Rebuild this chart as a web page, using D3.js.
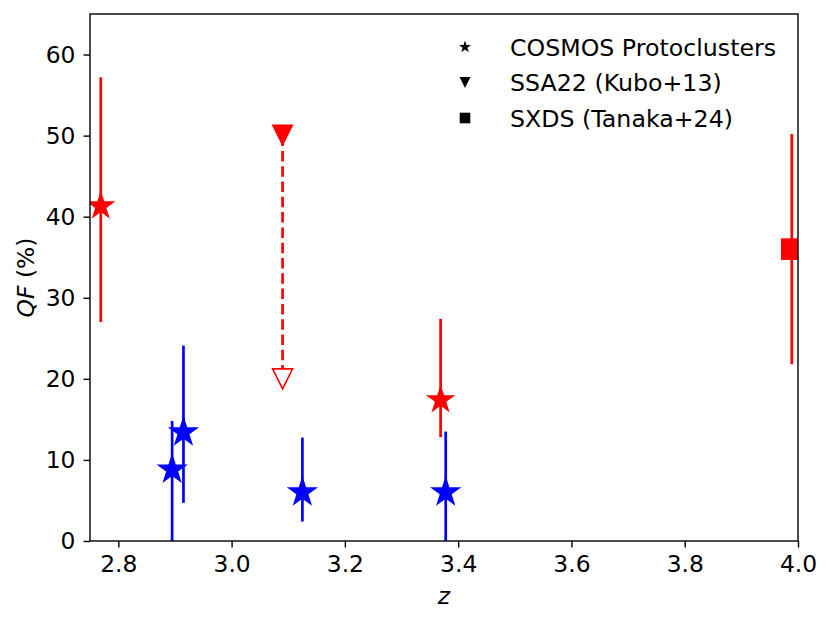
<!DOCTYPE html>
<html>
<head>
<meta charset="utf-8">
<script src="https://cdn.jsdelivr.net/npm/d3@7"></script>
<style>
  body { margin: 0; background: #fff; }
  text { font-family: "DejaVu Sans", sans-serif; }
</style>
</head>
<body>
<script>
// COSMOS protoclusters (stars), red = one group, blue = the other
var cosmosZ     = [2.769, 2.895, 2.915, 3.125, 3.369, 3.378];
var cosmosQF    = [41.3, 8.8, 13.4, 6.0, 17.4, 6.0];
var cosmosLow   = [27.0, 0.0, 4.7, 2.4, 12.8, 0.0];
var cosmosHigh  = [57.2, 14.8, 24.1, 12.75, 27.4, 13.5];
var cosmosColor = ["red", "blue", "blue", "blue", "red", "blue"];

// SSA22 (Kubo+13): upper limit
var ssaZ = [3.09];
var ssaQF = [50];
var ssaLimit = [20];

// SXDS (Tanaka+24)
var sxdsZ = [3.989];
var sxdsQF = [36.0];
var sxdsLow = [21.8];
var sxdsHigh = [50.2];

var xTicks = [2.8, 3.0, 3.2, 3.4, 3.6, 3.8, 4.0];
var yTicks = [0, 10, 20, 30, 40, 50, 60];
var legendLabels = ["COSMOS Protoclusters", "SSA22 (Kubo+13)", "SXDS (Tanaka+24)"];

var W = 831, H = 624;
var margin = {top: 14, right: 33, bottom: 83, left: 90};
var width = W - margin.left - margin.right,
    height = H - margin.top - margin.bottom;

var svg = d3.select("body").append("svg")
    .attr("width", W)
    .attr("height", H);

var g = svg.append("g")
    .attr("transform", "translate(" + margin.left + "," + margin.top + ")");

var x = d3.scaleLinear().domain([2.75, 4.0]).range([0, width]);
var y = d3.scaleLinear().domain([0, 65]).range([height, 0]);

svg.append("defs").append("clipPath").attr("id", "clip")
  .append("rect").attr("width", width).attr("height", height);

var plot = g.append("g").attr("clip-path", "url(#clip)");

// star path (same inner radius ratio as matplotlib)
var star = function(r) {
  return d3.symbol().type(d3.symbolStar).size(r * r / 0.8908130915292852)();
};
function triDown(s) {
  var h = s / 2;
  return "M0," + h + "L" + (-h) + "," + (-h) + "L" + h + "," + (-h) + "Z";
}

// error bars
plot.selectAll(".cerr")
    .data(cosmosZ)
    .enter().append("line")
    .attr("x1", function(d) { return x(d); })
    .attr("x2", function(d) { return x(d); })
    .attr("y1", function(d, i) { return y(cosmosLow[i]); })
    .attr("y2", function(d, i) { return y(cosmosHigh[i]); })
    .attr("stroke", function(d, i) { return cosmosColor[i]; })
    .attr("stroke-width", 2.7);

plot.selectAll(".cstar")
    .data(cosmosZ)
    .enter().append("path")
    .attr("d", function(d, i) { return star(cosmosColor[i] == "red" ? 15.5 : 16.5); })
    .attr("transform", function(d, i) { return "translate(" + x(d) + "," + y(cosmosQF[i]) + ")"; })
    .attr("fill", function(d, i) { return cosmosColor[i]; });

// SSA22 upper limit
plot.selectAll(".ssa")
    .data(ssaZ)
    .enter().append("line")
    .attr("x1", function(d) { return x(d); })
    .attr("x2", function(d) { return x(d); })
    .attr("y1", function(d, i) { return y(ssaQF[i]); })
    .attr("y2", function(d, i) { return y(ssaLimit[i]); })
    .attr("stroke", "red")
    .attr("stroke-width", 2.7)
    .attr("stroke-dasharray", "10.5,4.8");

plot.selectAll(".ssaopen")
    .data(ssaZ)
    .enter().append("path")
    .attr("d", triDown(20))
    .attr("transform", function(d, i) { return "translate(" + x(d) + "," + y(ssaLimit[i]) + ")"; })
    .attr("fill", "white")
    .attr("stroke", "red")
    .attr("stroke-width", 1.6);

plot.selectAll(".ssafill")
    .data(ssaZ)
    .enter().append("path")
    .attr("d", triDown(22))
    .attr("transform", function(d, i) { return "translate(" + x(d) + "," + y(ssaQF[i]) + ")"; })
    .attr("fill", "red");

// SXDS
plot.selectAll(".sxerr")
    .data(sxdsZ)
    .enter().append("line")
    .attr("x1", function(d) { return x(d); })
    .attr("x2", function(d) { return x(d); })
    .attr("y1", function(d, i) { return y(sxdsLow[i]); })
    .attr("y2", function(d, i) { return y(sxdsHigh[i]); })
    .attr("stroke", "red")
    .attr("stroke-width", 2.7);

plot.selectAll(".sxsq")
    .data(sxdsZ)
    .enter().append("rect")
    .attr("x", function(d) { return x(d) - 10.8; })
    .attr("y", function(d, i) { return y(sxdsQF[i]) - 10.8; })
    .attr("width", 21.6)
    .attr("height", 21.6)
    .attr("fill", "red");

// axes
var xAxis = g.append("g")
    .attr("transform", "translate(0," + height + ")")
    .call(d3.axisBottom(x).tickValues(xTicks).tickFormat(d3.format(".1f")).tickSizeInner(6.5).tickSizeOuter(0).tickPadding(8));
var yAxis = g.append("g")
    .call(d3.axisLeft(y).tickValues(yTicks).tickSizeInner(6.5).tickSizeOuter(0).tickPadding(8));

[xAxis, yAxis].forEach(function(a) {
  a.selectAll("text").attr("font-size", 23.4).attr("fill", "black").attr("font-family", "DejaVu Sans");
  a.selectAll("line").attr("stroke", "black").attr("stroke-width", 1.4);
  a.select(".domain").remove();
});

g.append("rect")
    .attr("width", width)
    .attr("height", height)
    .attr("fill", "none")
    .attr("stroke", "black")
    .attr("stroke-width", 1.4);

// axis labels
g.append("text")
    .attr("x", width / 2)
    .attr("y", height + 63)
    .attr("text-anchor", "middle")
    .attr("font-size", 23.4)
    .attr("font-style", "italic")
    .text("z");

var yl = g.append("text")
    .attr("transform", "translate(-56," + (height / 2) + ") rotate(-90)")
    .attr("text-anchor", "middle")
    .attr("font-size", 23.4);
yl.append("tspan").attr("font-style", "italic").text("QF");
yl.append("tspan").text(" (%)");

// legend
var legend = svg.append("g").attr("transform", "translate(465,47)");
var legendRow = legend.selectAll(".row")
    .data(legendLabels)
    .enter().append("g")
    .attr("transform", function(d, i) { return "translate(0," + (i * 35.5) + ")"; });

legendRow.append("path")
    .attr("d", function(d, i) {
      if (i == 0) return star(6.4);
      if (i == 1) return triDown(11);
      return "M-5.3,-5.3H5.3V5.3H-5.3Z";
    })
    .attr("fill", "black");

legendRow.append("text")
    .attr("x", 45)
    .attr("dy", "0.36em")
    .attr("font-size", 23.7)
    .text(function(d) { return d; });
</script>
</body>
</html>
